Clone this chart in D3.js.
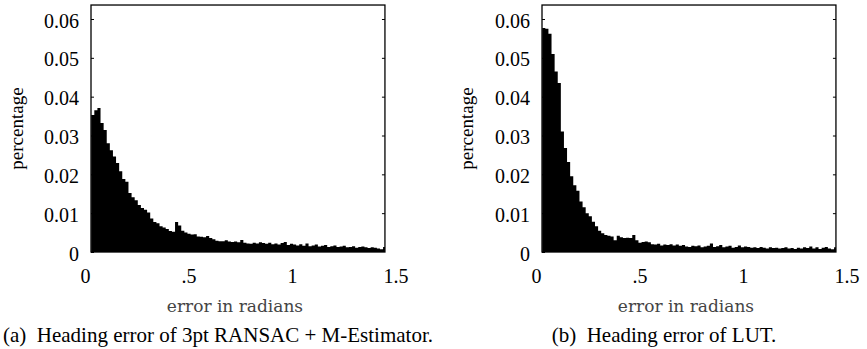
<!DOCTYPE html>
<html>
<head>
<meta charset="utf-8">
<script src="https://cdn.jsdelivr.net/npm/d3@7"></script>
<style>
  html, body { margin: 0; padding: 0; background: #fff; }
  svg { display: block; }
</style>
</head>
<body>
<svg id="chart" width="867" height="349"></svg>
<script>
// ---- data ----
const binStart = 0.03;
const binWidth = 0.015;

const ransacValues = [
  .0353, .0365, .0371, .0332, .0314, .0280, .0262, .0246, .0229, .0208,
  .0188, .0181, .0152, .0141, .0133, .0121, .0113, .0109, .0102, .0086,
  .0077, .0074, .0066, .0063, .0059, .0054, .0052, .0077, .0068, .0055,
  .0050, .0047, .0045, .0046, .0040, .0039, .0038, .0041, .0036, .0033,
  .0029, .0028, .0028, .0030, .0027, .0026, .0027, .0025, .0031, .0024,
  .0022, .0021, .0024, .0022, .0025, .0023, .0021, .0024, .0020, .0022,
  .0019, .0023, .0026, .0018, .0021, .0019, .0017, .0020, .0016, .0022,
  .0015, .0017, .0019, .0014, .0016, .0018, .0013, .0015, .0017, .0013,
  .0014, .0016, .0012, .0013, .0015, .0011, .0013, .0014, .0012, .0010,
  .0012, .0011, .0009, .0007, .0013
];

const lutValues = [
  .0577, .0575, .0562, .0510, .0465, .0435, .0310, .0268, .0232, .0195,
  .0172, .0158, .0130, .0115, .0100, .0092, .0078, .0066, .0055, .0048,
  .0044, .0042, .0040, .0030, .0042, .0038, .0036, .0037, .0036, .0044,
  .0030, .0024, .0026, .0027, .0025, .0020, .0019, .0021, .0017, .0019,
  .0018, .0020, .0017, .0019, .0016, .0018, .0014, .0013, .0016, .0015,
  .0017, .0012, .0014, .0016, .0022, .0013, .0015, .0018, .0012, .0014,
  .0016, .0011, .0013, .0017, .0012, .0014, .0013, .0011, .0012, .0010,
  .0013, .0011, .0009, .0012, .0010, .0011, .0009, .0010, .0012, .0009,
  .0010, .0008, .0011, .0009, .0012, .0010, .0014, .0009, .0012, .0008,
  .0011, .0013, .0009, .0007, .0012
];

const xTicks = [0, 0.5, 1, 1.5];
const xTickLabels = ["0", ".5", "1", "1.5"];
const yTicks = [0, 0.01, 0.02, 0.03, 0.04, 0.05, 0.06];
const yTickLabels = ["0", "0.01", "0.02", "0.03", "0.04", "0.05", "0.06"];
const xLabel = "error in radians";
const yLabel = "percentage";
const captions = ["(a)\u00A0\u00A0Heading error of 3pt RANSAC + M-Estimator.", "(b)\u00A0\u00A0Heading error of LUT."];

// ---- layout ----
const svg = d3.select("#chart");
const serif = "'Liberation Serif', 'Times New Roman', serif";
const xFrame = [0.029, 1.449];
const yTop = 0.0636;

const panels = [
  { values: ransacValues, x0: 85, caption: captions[0], capX: 218, yLabX: 17 },
  { values: lutValues, x0: 536, caption: captions[1], capX: 664, yLabX: 467 }
];

panels.forEach(p => {
  const x = d3.scaleLinear().domain([0, 1.5]).range([p.x0, p.x0 + 310.5]);
  const y = d3.scaleLinear().domain([0, 0.06]).range([252, 19]);
  const g = svg.append("g");

  // histogram as a step area
  const pts = p.values.map((v, i) => ({ x: binStart + i * binWidth, v }));
  const last = pts[pts.length - 1];
  pts.push({ x: Math.min(last.x + binWidth, xFrame[1]), v: last.v });
  const area = d3.area()
    .x(d => x(Math.max(d.x, xFrame[0])))
    .y0(y(0))
    .y1(d => y(d.v))
    .curve(d3.curveStepAfter);
  g.append("path").datum(pts).attr("d", area).attr("fill", "#000");

  // frame
  const fx0 = x(xFrame[0]), fx1 = x(xFrame[1]), fy0 = y(yTop), fy1 = y(0);
  g.append("rect")
    .attr("x", fx0).attr("y", fy0)
    .attr("width", fx1 - fx0).attr("height", fy1 - fy0)
    .attr("fill", "none").attr("stroke", "#000").attr("stroke-width", 1.3);

  // left y axis (labels + inward ticks)
  const yAxis = d3.axisLeft(y).tickValues(yTicks)
    .tickFormat((d, i) => yTickLabels[i]).tickSize(-3).tickPadding(12);
  const ya = g.append("g").attr("transform", `translate(${fx0},0)`).call(yAxis);
  ya.select(".domain").remove();
  ya.selectAll("text").attr("font-family", serif).attr("font-size", 20).attr("fill", "#000").attr("dy", "0.4em");
  ya.selectAll("line").attr("stroke", "#000");

  // right mirrored ticks
  const yAxisR = d3.axisRight(y).tickValues(yTicks.slice(1)).tickFormat("").tickSize(-3);
  const yr = g.append("g").attr("transform", `translate(${fx1},0)`).call(yAxisR);
  yr.select(".domain").remove();
  yr.selectAll("line").attr("stroke", "#000");

  // x axis labels
  const xAxis = d3.axisBottom(x).tickValues(xTicks)
    .tickFormat((d, i) => xTickLabels[i]).tickSize(0).tickPadding(17);
  const xa = g.append("g").attr("transform", `translate(0,${fy1})`).call(xAxis);
  xa.select(".domain").remove();
  xa.selectAll("text").attr("font-family", serif).attr("font-size", 20).attr("fill", "#000");

  // x label
  g.append("text")
    .attr("x", (fx0 + fx1) / 2 - 3).attr("y", 312)
    .attr("text-anchor", "middle")
    .attr("font-family", "'DejaVu Serif', serif").attr("font-size", 17)
    .attr("fill", "#444")
    .text(xLabel);

  // y label
  g.append("text")
    .attr("transform", `translate(${p.yLabX + 6},${(fy0 + fy1) / 2}) rotate(-90)`)
    .attr("text-anchor", "middle")
    .attr("font-family", serif).attr("font-size", 19)
    .attr("fill", "#000")
    .text(yLabel);

  // caption
  g.append("text")
    .attr("x", p.capX).attr("y", 342)
    .attr("text-anchor", "middle")
    .attr("font-family", serif).attr("font-size", 21)
    .attr("fill", "#000")
    .text(p.caption);
});
</script>
</body>
</html>
